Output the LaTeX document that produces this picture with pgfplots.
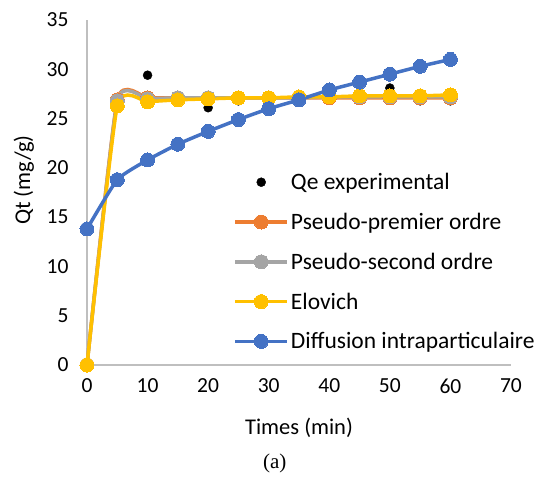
\documentclass[border=0pt]{standalone}
\usepackage{pgfplots}
\pgfplotsset{compat=1.18}
\usepackage{fontspec}
\setmainfont{Carlito}
\newfontfamily\serifcap{Liberation Serif}
\definecolor{cOrange}{HTML}{ED7D31}
\definecolor{cGray}{HTML}{A5A5A5}
\definecolor{cYellow}{HTML}{FFC000}
\definecolor{cBlue}{HTML}{4472C4}
\definecolor{cAxis}{HTML}{BFBFBF}
\begin{document}
\begin{tikzpicture}
\useasboundingbox (-87bp,-119bp) rectangle (447bp,365bp);
\begin{axis}[
  scale only axis,
  width=424bp, height=345bp,
  xmin=0, xmax=70, ymin=0, ymax=35,
  xtick={0,10,...,70}, ytick={0,5,...,35},
  axis x line*=bottom, axis y line*=left,
  axis line style={cAxis, line width=1.2bp, -},
  major tick length=0pt,
  tick label style={font=\fontsize{21.5bp}{24bp}\selectfont, black},
  /pgf/number format/assume math mode=true,
  xticklabel style={yshift=-10bp},
  yticklabel style={xshift=-15bp},
  xlabel={Times (min)},
  ylabel={Qt (mg/g)},
  label style={font=\fontsize{22.5bp}{25bp}\selectfont},
  xlabel style={at={(axis description cs:0.5,-0.183)}, anchor=center},
  ylabel style={at={(axis description cs:-0.149,0.536)}, anchor=center},
  clip=false,
  legend style={at={(0.345,0.562)}, anchor=north west, draw=none, fill=none,
    font=\fontsize{23.5bp}{26bp}\selectfont, row sep=18bp,
    cells={anchor=west}, inner sep=0pt},
  legend image code/.code={\draw[mark repeat=2,mark phase=2] plot coordinates {(0bp,0bp) (26bp,0bp) (52bp,0bp)};},
]
\addplot[only marks, mark=*, mark size=4.5bp, black,
  legend image code/.code={\draw[only marks, mark=*, mark size=4.5bp, black] plot coordinates {(26bp,0bp)};}]
  coordinates {(0,0) (5,26.5) (10,29.4) (15,27.0) (20,26.1) (25,26.8) (30,27.0) (35,27.0) (40,27.1) (45,27.2) (50,28.1) (55,26.8) (60,26.8)};
\addlegendentry{Qe experimental}
\addplot[smooth, tension=0.3, cOrange, line width=3.5bp, mark=*, mark size=7bp, mark options={fill=cOrange, draw=cOrange, line width=0pt}]
  coordinates {(0,0) (5,26.9) (10,27.1) (15,27.1) (20,27.1) (25,27.1) (30,27.1) (35,27.1) (40,27.1) (45,27.1) (50,27.1) (55,27.1) (60,27.1)};
\addlegendentry{Pseudo-premier ordre}
\addplot[smooth, tension=0.3, cGray, line width=3.5bp, mark=*, mark size=7bp, mark options={fill=cGray, draw=cGray, line width=0pt}]
  coordinates {(0,0) (5,26.8) (10,27.0) (15,27.1) (20,27.1) (25,27.1) (30,27.1) (35,27.1) (40,27.2) (45,27.2) (50,27.2) (55,27.2) (60,27.2)};
\addlegendentry{Pseudo-second ordre}
\addplot[smooth, tension=0.3, cYellow, line width=3.5bp, mark=*, mark size=7bp, mark options={fill=cYellow, draw=cYellow, line width=0pt}]
  coordinates {(0,0) (5,26.3) (10,26.7) (15,26.9) (20,27.0) (25,27.1) (30,27.1) (35,27.2) (40,27.2) (45,27.3) (50,27.3) (55,27.3) (60,27.4)};
\addlegendentry{Elovich}
\addplot[smooth, tension=0.3, cBlue, line width=3.5bp, mark=*, mark size=7bp, mark options={fill=cBlue, draw=cBlue, line width=0pt}]
  coordinates {(0,13.8) (5,18.8) (10,20.8) (15,22.4) (20,23.7) (25,24.9) (30,26.0) (35,26.9) (40,27.9) (45,28.7) (50,29.5) (55,30.3) (60,31.0)};
\addlegendentry{Diffusion intraparticulaire}
\node[font=\serifcap\fontsize{21bp}{23bp}\selectfont] at (axis description cs:0.443,-0.284) {(a)};
\end{axis}
\end{tikzpicture}
\end{document}
